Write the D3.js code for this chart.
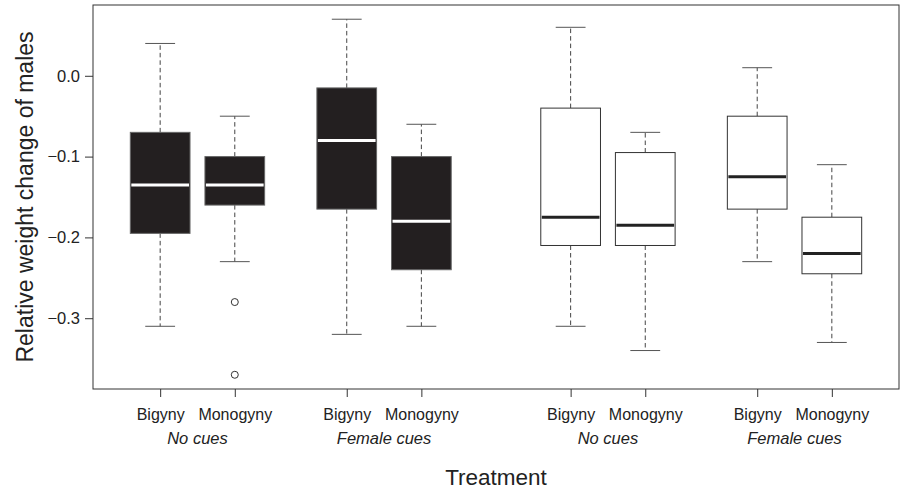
<!DOCTYPE html>
<html>
<head>
<meta charset="utf-8">
<script src="https://cdn.jsdelivr.net/npm/d3@7"></script>
<style>
  body { margin: 0; background: #fff; }
  svg { display: block; font-family: "Liberation Sans", Arial, sans-serif; }
</style>
</head>
<body>
<div id="chart"></div>
<script>
// box stats
const treatments = ["Bigyny", "Monogyny", "Bigyny", "Monogyny", "Bigyny", "Monogyny", "Bigyny", "Monogyny"];
const groups = ["No cues", "Female cues", "No cues", "Female cues"];
const positions = [1, 2, 3.5, 4.5, 6.5, 7.5, 9, 10];
const whiskLo = [-0.31, -0.23, -0.32, -0.31, -0.31, -0.34, -0.23, -0.33];
const q1 =      [-0.195, -0.16, -0.165, -0.24, -0.21, -0.21, -0.165, -0.245];
const med =     [-0.135, -0.135, -0.08, -0.18, -0.175, -0.185, -0.125, -0.22];
const q3 =      [-0.07, -0.10, -0.015, -0.10, -0.04, -0.095, -0.05, -0.175];
const whiskHi = [0.04, -0.05, 0.07, -0.06, 0.06, -0.07, 0.01, -0.11];
const outliers = [[], [-0.28, -0.37], [], [], [], [], [], []];
const dark = [true, true, true, true, false, false, false, false];
const yTicks = [0, -0.1, -0.2, -0.3];

const width = 901, height = 491;
const mLeft = 93, mRight = 899, mTop = 5, mBottom = 389;

const svg = d3.select("#chart").append("svg")
  .attr("width", width)
  .attr("height", height);

const x = d3.scaleLinear().domain([0.1, 10.9]).range([mLeft, mRight]);
const y = d3.scaleLinear().domain([-0.3876, 0.0876]).range([mBottom, mTop]);

const unit = x(1) - x(0);
const boxW = 0.8 * unit, capW = 0.4 * unit;

const data = positions.map((p, i) => ({
  pos: p, lo: whiskLo[i], q1: q1[i], med: med[i], q3: q3[i], hi: whiskHi[i],
  out: outliers[i], dark: dark[i]
}));

const box = svg.append("g").selectAll("g")
  .data(data)
  .join("g");

// whiskers
box.append("line")
  .attr("x1", d => x(d.pos)).attr("x2", d => x(d.pos))
  .attr("y1", d => y(d.q3)).attr("y2", d => y(d.hi))
  .attr("stroke", "#444").attr("stroke-dasharray", "4.5,3");
box.append("line")
  .attr("x1", d => x(d.pos)).attr("x2", d => x(d.pos))
  .attr("y1", d => y(d.q1)).attr("y2", d => y(d.lo))
  .attr("stroke", "#444").attr("stroke-dasharray", "4.5,3");
// caps
box.append("line")
  .attr("x1", d => x(d.pos) - capW / 2).attr("x2", d => x(d.pos) + capW / 2)
  .attr("y1", d => y(d.hi)).attr("y2", d => y(d.hi))
  .attr("stroke", "#555");
box.append("line")
  .attr("x1", d => x(d.pos) - capW / 2).attr("x2", d => x(d.pos) + capW / 2)
  .attr("y1", d => y(d.lo)).attr("y2", d => y(d.lo))
  .attr("stroke", "#555");
// boxes
box.append("rect")
  .attr("x", d => x(d.pos) - boxW / 2)
  .attr("width", boxW)
  .attr("y", d => y(d.q3))
  .attr("height", d => y(d.q1) - y(d.q3))
  .attr("fill", d => d.dark ? "#231f20" : "#fff")
  .attr("stroke", d => d.dark ? "#666" : "#333");
// medians
box.append("line")
  .attr("x1", d => x(d.pos) - boxW / 2 + 1).attr("x2", d => x(d.pos) + boxW / 2 - 1)
  .attr("y1", d => y(d.med)).attr("y2", d => y(d.med))
  .attr("stroke", d => d.dark ? "#fff" : "#222")
  .attr("stroke-width", 3);
// outliers
box.selectAll("circle")
  .data(d => d.out.map(v => ({ pos: d.pos, v })))
  .join("circle")
  .attr("cx", d => x(d.pos)).attr("cy", d => y(d.v))
  .attr("r", 3.5)
  .attr("fill", "none").attr("stroke", "#333");

// frame
svg.append("rect")
  .attr("x", mLeft).attr("y", mTop)
  .attr("width", mRight - mLeft).attr("height", mBottom - mTop)
  .attr("fill", "none").attr("stroke", "#333");

// y axis
const yAxis = svg.append("g")
  .attr("transform", `translate(${mLeft},0)`)
  .call(d3.axisLeft(y).tickValues(yTicks).tickSize(8).tickPadding(5).tickFormat(d3.format(".1f")));
yAxis.select(".domain").remove();
yAxis.selectAll(".tick line").attr("stroke", "#333");
yAxis.selectAll(".tick text").attr("font-size", 16.5).attr("fill", "#222")
  .attr("font-family", "Liberation Sans, Arial, sans-serif");

// x axis
const xAxis = svg.append("g")
  .attr("transform", `translate(0,${mBottom})`)
  .call(d3.axisBottom(x).tickValues(positions).tickSize(8).tickPadding(0).tickFormat((d, i) => treatments[i]));
xAxis.select(".domain").remove();
xAxis.selectAll(".tick line").attr("stroke", "#333");
xAxis.selectAll(".tick text")
  .attr("dy", null).attr("y", 31)
  .attr("font-size", 16).attr("fill", "#222")
  .attr("font-family", "Liberation Sans, Arial, sans-serif");

// group labels
svg.append("g").selectAll("text")
  .data(groups)
  .join("text")
  .attr("x", (d, i) => (x(positions[2 * i]) + x(positions[2 * i + 1])) / 2)
  .attr("y", 444)
  .attr("text-anchor", "middle")
  .attr("font-size", 16.5)
  .attr("font-style", "italic")
  .attr("fill", "#222")
  .text(d => d);

// axis titles
svg.append("text")
  .attr("x", (mLeft + mRight) / 2).attr("y", 485)
  .attr("text-anchor", "middle")
  .attr("font-size", 22.5).attr("fill", "#222")
  .text("Treatment");

svg.append("text")
  .attr("transform", `translate(33,${(mTop + mBottom) / 2}) rotate(-90)`)
  .attr("text-anchor", "middle")
  .attr("font-size", 23).attr("fill", "#222")
  .text("Relative weight change of males");
</script>
</body>
</html>
